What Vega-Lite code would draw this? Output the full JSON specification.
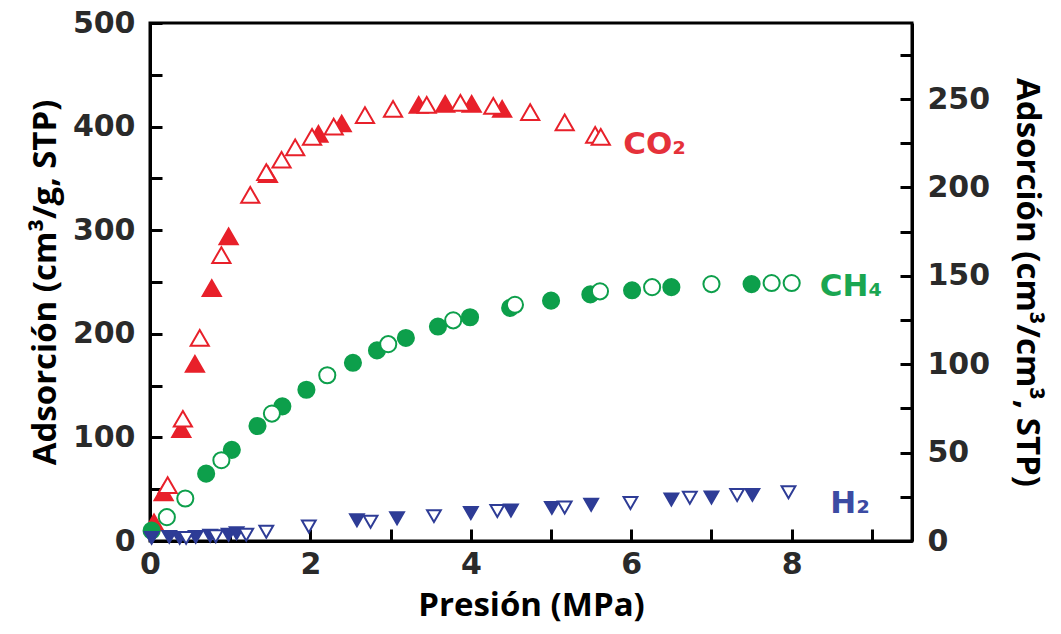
{
  "$schema": "https://vega.github.io/schema/vega-lite/v6.json",
  "width": 762,
  "height": 518,
  "autosize": {"type": "none"},
  "padding": {"left": 150, "top": 23, "right": 149, "bottom": 93},
  "background": "white",
  "config": {
    "view": {"stroke": "black", "strokeWidth": 3},
    "axis": {
      "grid": false,
      "domainColor": "black",
      "domainWidth": 3,
      "tickColor": "black",
      "tickWidth": 3,
      "tickSize": -12,
      "labelFlush": false,
      "labelOverlap": false,
      "format": "d",
      "labelFont": "DejaVu Sans",
      "labelFontWeight": "bold",
      "labelFontSize": 30,
      "labelColor": "#2a2a2a",
      "titleFont": "Open Sans",
      "titleFontWeight": "bold",
      "titleFontSize": 33,
      "titleColor": "black"
    }
  },
  "layer": [
    {
      "layer": [
        {
          "data": {
            "values": [
              {"gas": "CO2", "f": "filled", "p": 0.05, "v": 18},
              {"gas": "CO2", "f": "filled", "p": 0.17, "v": 47},
              {"gas": "CO2", "f": "filled", "p": 0.39, "v": 108},
              {"gas": "CO2", "f": "filled", "p": 0.56, "v": 171},
              {"gas": "CO2", "f": "filled", "p": 0.77, "v": 244},
              {"gas": "CO2", "f": "filled", "p": 0.98, "v": 294},
              {"gas": "CO2", "f": "filled", "p": 1.47, "v": 354},
              {"gas": "CO2", "f": "filled", "p": 2.10, "v": 393},
              {"gas": "CO2", "f": "filled", "p": 2.39, "v": 403},
              {"gas": "CO2", "f": "filled", "p": 3.35, "v": 421},
              {"gas": "CO2", "f": "filled", "p": 3.68, "v": 422},
              {"gas": "CO2", "f": "filled", "p": 4.01, "v": 422},
              {"gas": "CO2", "f": "filled", "p": 4.39, "v": 417},
              {"gas": "CO2", "f": "open", "p": 0.22, "v": 54},
              {"gas": "CO2", "f": "open", "p": 0.41, "v": 118},
              {"gas": "CO2", "f": "open", "p": 0.62, "v": 196},
              {"gas": "CO2", "f": "open", "p": 0.89, "v": 276},
              {"gas": "CO2", "f": "open", "p": 1.25, "v": 334},
              {"gas": "CO2", "f": "open", "p": 1.45, "v": 356},
              {"gas": "CO2", "f": "open", "p": 1.64, "v": 368},
              {"gas": "CO2", "f": "open", "p": 1.81, "v": 380},
              {"gas": "CO2", "f": "open", "p": 2.02, "v": 390},
              {"gas": "CO2", "f": "open", "p": 2.29, "v": 400},
              {"gas": "CO2", "f": "open", "p": 2.68, "v": 411},
              {"gas": "CO2", "f": "open", "p": 3.03, "v": 417},
              {"gas": "CO2", "f": "open", "p": 3.45, "v": 421},
              {"gas": "CO2", "f": "open", "p": 3.87, "v": 423},
              {"gas": "CO2", "f": "open", "p": 4.28, "v": 420},
              {"gas": "CO2", "f": "open", "p": 4.74, "v": 414},
              {"gas": "CO2", "f": "open", "p": 5.17, "v": 404},
              {"gas": "CO2", "f": "open", "p": 5.55, "v": 392},
              {"gas": "CO2", "f": "open", "p": 5.62, "v": 390},
              {"gas": "CH4", "f": "filled", "p": 0.02, "v": 10},
              {"gas": "CH4", "f": "filled", "p": 0.70, "v": 65},
              {"gas": "CH4", "f": "filled", "p": 1.02, "v": 88},
              {"gas": "CH4", "f": "filled", "p": 1.34, "v": 111},
              {"gas": "CH4", "f": "filled", "p": 1.65, "v": 130},
              {"gas": "CH4", "f": "filled", "p": 1.95, "v": 146},
              {"gas": "CH4", "f": "filled", "p": 2.53, "v": 172},
              {"gas": "CH4", "f": "filled", "p": 2.83, "v": 184},
              {"gas": "CH4", "f": "filled", "p": 3.19, "v": 196},
              {"gas": "CH4", "f": "filled", "p": 3.59, "v": 207},
              {"gas": "CH4", "f": "filled", "p": 3.99, "v": 216},
              {"gas": "CH4", "f": "filled", "p": 4.49, "v": 225},
              {"gas": "CH4", "f": "filled", "p": 5.00, "v": 232},
              {"gas": "CH4", "f": "filled", "p": 5.49, "v": 238},
              {"gas": "CH4", "f": "filled", "p": 6.01, "v": 242},
              {"gas": "CH4", "f": "filled", "p": 6.50, "v": 245},
              {"gas": "CH4", "f": "filled", "p": 7.50, "v": 248},
              {"gas": "CH4", "f": "open", "p": 0.21, "v": 23},
              {"gas": "CH4", "f": "open", "p": 0.44, "v": 41},
              {"gas": "CH4", "f": "open", "p": 0.89, "v": 78},
              {"gas": "CH4", "f": "open", "p": 1.52, "v": 123},
              {"gas": "CH4", "f": "open", "p": 2.21, "v": 160},
              {"gas": "CH4", "f": "open", "p": 2.97, "v": 190},
              {"gas": "CH4", "f": "open", "p": 3.78, "v": 213},
              {"gas": "CH4", "f": "open", "p": 4.55, "v": 228},
              {"gas": "CH4", "f": "open", "p": 5.61, "v": 241},
              {"gas": "CH4", "f": "open", "p": 6.26, "v": 245},
              {"gas": "CH4", "f": "open", "p": 7.00, "v": 248},
              {"gas": "CH4", "f": "open", "p": 7.75, "v": 249},
              {"gas": "CH4", "f": "open", "p": 8.00, "v": 249},
              {"gas": "H2", "f": "filled", "p": 0.02, "v": 3},
              {"gas": "H2", "f": "filled", "p": 0.24, "v": 4},
              {"gas": "H2", "f": "filled", "p": 0.37, "v": 3},
              {"gas": "H2", "f": "filled", "p": 0.57, "v": 4},
              {"gas": "H2", "f": "filled", "p": 0.75, "v": 5},
              {"gas": "H2", "f": "filled", "p": 0.98, "v": 6},
              {"gas": "H2", "f": "filled", "p": 1.08, "v": 7.5},
              {"gas": "H2", "f": "filled", "p": 2.58, "v": 20},
              {"gas": "H2", "f": "filled", "p": 3.08, "v": 22},
              {"gas": "H2", "f": "filled", "p": 4.00, "v": 27},
              {"gas": "H2", "f": "filled", "p": 4.50, "v": 29.5},
              {"gas": "H2", "f": "filled", "p": 5.01, "v": 32},
              {"gas": "H2", "f": "filled", "p": 5.50, "v": 35},
              {"gas": "H2", "f": "filled", "p": 6.50, "v": 40},
              {"gas": "H2", "f": "filled", "p": 7.00, "v": 42},
              {"gas": "H2", "f": "filled", "p": 7.51, "v": 44.5},
              {"gas": "H2", "f": "open", "p": 0.45, "v": 3},
              {"gas": "H2", "f": "open", "p": 0.82, "v": 4.5},
              {"gas": "H2", "f": "open", "p": 1.20, "v": 6},
              {"gas": "H2", "f": "open", "p": 1.45, "v": 9},
              {"gas": "H2", "f": "open", "p": 1.98, "v": 14},
              {"gas": "H2", "f": "open", "p": 2.75, "v": 18.6},
              {"gas": "H2", "f": "open", "p": 3.54, "v": 24},
              {"gas": "H2", "f": "open", "p": 4.33, "v": 29},
              {"gas": "H2", "f": "open", "p": 5.17, "v": 32.3},
              {"gas": "H2", "f": "open", "p": 5.99, "v": 36.7},
              {"gas": "H2", "f": "open", "p": 6.73, "v": 41.7},
              {"gas": "H2", "f": "open", "p": 7.32, "v": 44.4},
              {"gas": "H2", "f": "open", "p": 7.96, "v": 47}
            ]
          },
          "mark": {"type": "point", "filled": true, "strokeWidth": 2, "opacity": 1},
          "encoding": {
            "x": {
              "field": "p", "type": "quantitative",
              "scale": {"domain": [0, 9.5], "nice": false, "zero": false},
              "axis": {
                "values": [0, 1, 2, 3, 4, 5, 6, 7, 8, 9],
                "labelExpr": "datum.value % 2 === 0 ? format(datum.value, 'd') : ''",
                "labelPadding": 20,
                "title": "Presión (MPa)",
                "titlePadding": 10
              }
            },
            "y": {
              "field": "v", "type": "quantitative",
              "scale": {"domain": [0, 500], "nice": false},
              "axis": {
                "values": [0, 50, 100, 150, 200, 250, 300, 350, 400, 450, 500],
                "labelExpr": "datum.value % 100 === 0 ? format(datum.value, 'd') : ''",
                "labelPadding": 27,
                "title": "Adsorción (cm³/g, STP)",
                "titlePadding": 10
              }
            },
            "shape": {
              "field": "gas", "type": "nominal",
              "scale": {"domain": ["CO2", "CH4", "H2"], "range": ["triangle-up", "circle", "triangle-down"]},
              "legend": null
            },
            "stroke": {
              "field": "gas", "type": "nominal",
              "scale": {"domain": ["CO2", "CH4", "H2"], "range": ["#E8202A", "#0D9F4B", "#2E3C96"]},
              "legend": null
            },
            "fill": {
              "condition": {"test": "datum.f === 'open'", "value": "white"},
              "field": "gas", "type": "nominal",
              "scale": {"domain": ["CO2", "CH4", "H2"], "range": ["#E8202A", "#0D9F4B", "#2E3C96"]},
              "legend": null
            },
            "size": {
              "field": "gas", "type": "nominal",
              "scale": {"domain": ["CO2", "CH4", "H2"], "range": [330, 190, 190]},
              "legend": null
            }
          }
        },
        {
          "data": {
            "values": [
              {"label": "CO₂", "gas": "CO2", "p": 5.90, "v": 382},
              {"label": "CH₄", "gas": "CH4", "p": 8.35, "v": 245},
              {"label": "H₂", "gas": "H2", "p": 8.48, "v": 36}
            ]
          },
          "mark": {"type": "text", "align": "left", "baseline": "middle", "font": "DejaVu Sans", "fontWeight": "bold", "fontSize": 31},
          "encoding": {
            "x": {"field": "p", "type": "quantitative"},
            "y": {"field": "v", "type": "quantitative"},
            "text": {"field": "label"},
            "color": {
              "field": "gas", "type": "nominal",
              "scale": {"domain": ["CO2", "CH4", "H2"], "range": ["#E5313A", "#1AA651", "#3C4BA3"]},
              "legend": null
            }
          }
        }
      ]
    },
    {
      "data": {"values": [{"r": 0}, {"r": 293}]},
      "mark": {"type": "point", "opacity": 0},
      "encoding": {
        "y": {
          "field": "r", "type": "quantitative",
          "scale": {"domain": [0, 293], "nice": false},
          "axis": {
            "orient": "right",
            "values": [0, 25, 50, 75, 100, 125, 150, 175, 200, 225, 250, 275],
            "labelExpr": "datum.value % 50 === 0 ? format(datum.value, 'd') : ''",
            "labelPadding": 27,
            "title": "Adsorción (cm³/cm³, STP)",
            "titlePadding": 20
          }
        }
      }
    }
  ],
  "resolve": {"scale": {"y": "independent"}}
}
